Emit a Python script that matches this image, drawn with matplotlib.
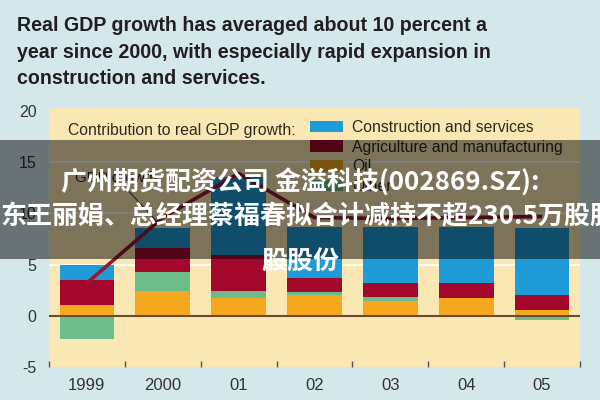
import matplotlib
matplotlib.use("Agg")
import matplotlib.pyplot as plt
import numpy as np
from matplotlib.patches import Patch, Rectangle

# contributions to real GDP growth, percentage points
years = ["1999", "2000", "01", "02", "03", "04", "05"]
construction = [1.5, 2.0, 7.6, 5.0, 5.4, 5.4, 6.55]
agriculture = [2.4, 2.3, 3.5, 1.4, 1.4, 1.5, 1.45]
oil = [1.1, 2.45, 1.75, 2.05, 1.4, 1.75, 0.6]
other = [-2.3, 1.85, 0.7, 0.25, 0.45, 0.0, -0.4]
gdp = [3.2, 9.6, 13.9, 9.6, 9.5, 9.6, 9.7]

yticks = [-5, 0, 5, 10, 15, 20]
ytick_labels = ["-5", "0", "5", "10", "15", "20"]
grid_levels = [5, 10, 15]

title = ("Real GDP growth has averaged about 10 percent a\n"
         "year since 2000, with especially rapid expansion in\n"
         "construction and services.")
overlay_lines = ["广州期货配资公司 金溢科技(002869.SZ):",
                 "东王丽娟、总经理蔡福春拟合计减持不超230.5万股股",
                 "股股份"]

C_BLUE, C_RED, C_ORANGE, C_GREEN = "#1f9bd7", "#a3072c", "#f5a81d", "#6cbd8b"
BG, CREAM, INK = "#d4e7eb", "#f9e8b4", "#2e2a22"

plt.rcParams["font.family"] = ["Liberation Sans", "DejaVu Sans"]

fig = plt.figure(figsize=(6, 4), dpi=100, facecolor=BG)
W, H = 600, 400
ax = fig.add_axes([49 / W, 1 - 367 / H, 531 / W, 259 / H])
ax.set_facecolor(CREAM)

x = np.arange(len(years))
series = [(oil, C_ORANGE), (other, C_GREEN), (agriculture, C_RED), (construction, C_BLUE)]
pos_base = np.zeros(len(years))
neg_base = np.zeros(len(years))
for vals, col in series:
    v = np.array(vals, dtype=float)
    bottom = np.where(v >= 0, pos_base, neg_base)
    ax.bar(x, v, 0.72, bottom=bottom, color=col, lw=0, zorder=2)
    pos_base += np.clip(v, 0, None)
    neg_base += np.clip(v, None, 0)

for g in grid_levels:
    ax.axhline(g, color="white", lw=1.4, zorder=1)
ax.axhline(0, color="#6b4c2e", lw=1.5, zorder=3)

ax.plot(x, gdp, color="#981a30", lw=2.6, zorder=4, solid_capstyle="butt")
ax.annotate("GDP growth", xy=(0.95, 9.0), xytext=(-0.16, 13.5),
            fontsize=11, color=INK, va="center", ha="left",
            arrowprops=dict(arrowstyle="-", color="#333333", lw=0.7,
                            shrinkA=2, shrinkB=0))

ax.set_xlim(-0.5, 6.5)
ax.set_ylim(-5, 20.3)
ax.set_yticks(yticks)
ax.set_yticklabels(ytick_labels)
ax.set_xticks(x)
ax.set_xticklabels(years)
ax.set_xticks(np.arange(-0.5, len(years)), minor=True)
ax.tick_params(axis="y", length=0, pad=9, labelsize=11.5, labelcolor="#333333")
ax.tick_params(axis="x", which="major", length=0, pad=8, labelsize=12,
               labelcolor="#333333")
ax.tick_params(axis="x", which="minor", length=4, width=1, direction="in",
               color="#555555")
for s in ax.spines.values():
    s.set_visible(False)

# legend
fig.text(68 / W, 1 - 130 / H, "Contribution to real GDP growth:", fontsize=11.3,
         color=INK, va="center", ha="left")
handles = [Patch(color=C_BLUE, lw=0), Patch(color=C_RED, lw=0),
           Patch(color=C_ORANGE, lw=0), Patch(color=C_GREEN, lw=0)]
labels = ["Construction and services", "Agriculture and manufacturing", "Oil", "Other"]
fig.legend(handles, labels, loc="upper left", bbox_to_anchor=(310 / W, 1 - 120 / H),
           frameon=False, fontsize=11.3, handlelength=2.1, handleheight=0.76,
           handletextpad=0.57, labelspacing=0.3, borderpad=0, borderaxespad=0,
           labelcolor=INK)

fig.text(17 / W, 1 - 16 / H, title, fontsize=14.1, fontweight="bold", color="#231f20",
         va="top", ha="left", linespacing=1.5)

# watermark banner over the chart
fig.add_artist(Rectangle((0, 1 - 259 / H), 1, 119 / H, transform=fig.transFigure,
                         facecolor="black", alpha=0.5, lw=0, zorder=20))
cjk = ["Noto Sans CJK SC", "DejaVu Sans"]
fs = 18.7
fig.text(0.5, 1 - 182 / H, overlay_lines[0], fontsize=fs, fontweight="bold",
         color="white", ha="center", va="center", family=cjk, zorder=21)
fig.text(0 / W, 1 - 217 / H, overlay_lines[1], fontsize=fs, fontweight="bold",
         color="white", ha="left", va="center", family=cjk, zorder=21)
fig.text(0.5, 1 - 261 / H, overlay_lines[2], fontsize=fs, fontweight="bold",
         color="white", ha="center", va="center", family=cjk, zorder=21)

fig.savefig("out.png", dpi=100, facecolor=BG)
